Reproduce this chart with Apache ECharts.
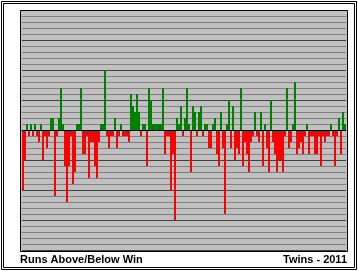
<!DOCTYPE html>
<html>
<head>
<meta charset="utf-8">
<script src="https://cdn.jsdelivr.net/npm/echarts@6/dist/echarts.min.js"></script>
<style>html,body{margin:0;padding:0;background:#fff;}#c{width:358px;height:271px;}</style>
</head>
<body>
<div id="c"></div>
<script>
// Game-by-game run differential, Twins 2011 (162 games)
const games = [];
for (let i = 1; i <= 162; i++) games.push(String(i));
const runDiff = [
  -10,-5,1,-1,1,-1,1,-1,-2,1,
  -5,-1,-3,-1,2,2,-11,-1,2,7,
  1,-6,-12,-6,-1,-9,-7,1,1,7,
  -4,-4,-1,-8,-2,-2,-6,-8,-2,1,
  1,10,-1,-3,-1,-1,2,-3,-1,1,
  -1,-1,-1,-2,6,4,3,6,3,-1,
  1,1,-6,7,5,1,1,1,1,1,
  7,-4,-1,-1,-10,-4,-15,2,1,4,
  -1,2,7,1,-7,4,3,-1,3,4,
  -1,1,1,-3,-3,1,2,-4,-6,3,
  -3,-14,1,5,-3,4,-5,-3,-4,7,
  -6,-2,-4,-7,-2,-1,3,-1,-2,3,
  -6,1,-3,-7,5,-2,-4,-7,-5,-5,
  -7,-1,7,-3,-2,1,8,-4,-3,-2,
  -4,-1,1,-4,-1,-1,-4,-4,-1,-6,
  -1,-2,-1,-1,1,-1,-6,-1,2,-4,
  3,1
];
const yMin = -20, yMax = 20;
const titleLeft = "Runs Above/Below Win";
const titleRight = "Twins - 2011";

const chart = echarts.init(document.getElementById('c'), null, {renderer: 'canvas'});
chart.setOption({
  animation: false,
  backgroundColor: '#ffffff',
  grid: {left: 22, top: 10, width: 324, height: 240, containLabel: false},
  xAxis: {
    type: 'category', data: games, boundaryGap: true, z: 10,
    axisLine: {show: true, onZero: true, lineStyle: {color: '#000', width: 1}},
    axisTick: {show: false}, axisLabel: {show: false}, splitLine: {show: false}
  },
  yAxis: {
    type: 'value', min: yMin, max: yMax, interval: 1,
    axisLine: {show: false}, axisTick: {show: false}, axisLabel: {show: false},
    splitLine: {show: true, lineStyle: {color: ['#404040','#808080','#808080','#808080','#808080'], width: 1}}
  },
  series: [{
    type: 'bar', data: runDiff, barWidth: 2, barGap: '0%', barCategoryGap: '0%',
    itemStyle: {color: p => p.value >= 0 ? '#008000' : '#ff0000'}
  }],
  graphic: [
    {type: 'rect', z: -10, shape: {x: 20, y: 10, width: 328, height: 242}, style: {fill: '#c0c0c0'}},
    {type: 'rect', z: 100, shape: {x: 20.5, y: 10.5, width: 327, height: 241}, style: {fill: 'none', stroke: '#000', lineWidth: 1}},
    {type: 'rect', z: 100, shape: {x: 1.5, y: 1.5, width: 355, height: 268}, style: {fill: 'none', stroke: '#000', lineWidth: 1}},
    {type: 'rect', z: 100, shape: {x: 3.5, y: 3.5, width: 351, height: 264}, style: {fill: 'none', stroke: '#000', lineWidth: 1}},
    {type: 'text', z: 100, style: {text: titleLeft, x: 20, y: 260, textVerticalAlign: 'middle', textAlign: 'left', font: 'bold 11px "Liberation Sans", Arial, sans-serif', fill: '#000'}},
    {type: 'text', z: 100, style: {text: titleRight, x: 347, y: 260, textVerticalAlign: 'middle', textAlign: 'right', font: 'bold 11px "Liberation Sans", Arial, sans-serif', fill: '#000'}}
  ]
});
</script>
</body>
</html>
